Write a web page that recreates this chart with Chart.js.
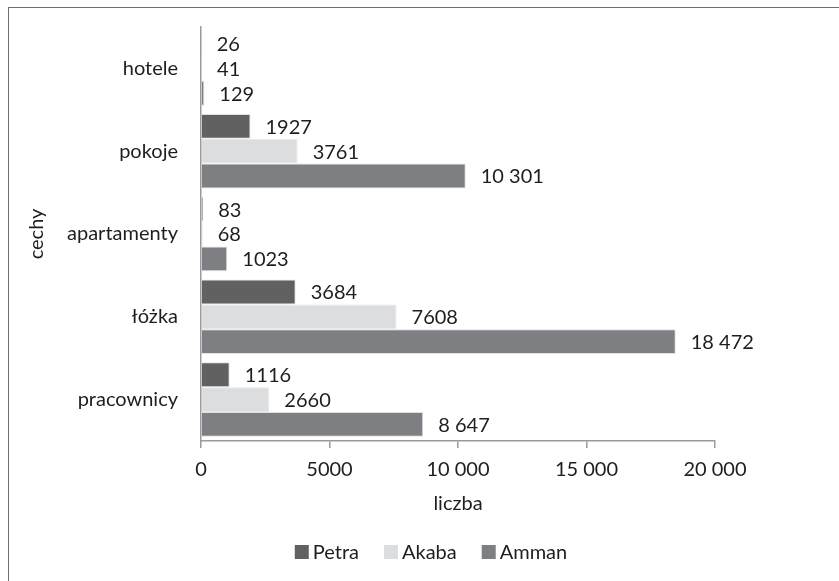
<!DOCTYPE html>
<html>
<head>
<meta charset="utf-8">
<script src="https://cdn.jsdelivr.net/npm/chart.js@4.4.1/dist/chart.umd.min.js"></script>
<style>
  html, body { margin: 0; padding: 0; background: #fff; }
  #wrap { position: relative; width: 839px; height: 581px; }
  #frame { position: absolute; left: 8px; top: 7px; right: 0; bottom: 0;
           border-left: 1px solid #6f6f6f; border-top: 1px solid #6f6f6f; }
  #chart { position: absolute; left: 0; top: 0; }
</style>
</head>
<body>
<div id="wrap">
  <div id="frame"></div>
  <canvas id="chart" width="839" height="581"></canvas>
</div>
<script>
const categories = ['hotele', 'pokoje', 'apartamenty', 'łóżka', 'pracownicy'];

const petra = [26, 1927, 83, 3684, 1116];
const akaba = [41, 3761, 68, 7608, 2660];
const amman = [129, 10301, 1023, 18472, 8647];

const petraLabels = ['26', '1927', '83', '3684', '1116'];
const akabaLabels = ['41', '3761', '68', '7608', '2660'];
const ammanLabels = ['129', '10 301', '1023', '18 472', '8 647'];

const xTicks = ['0', '5000', '10 000', '15 000', '20 000'];

const FONT = 'Lato, "Open Sans", sans-serif';
const TEXT = '#1e1e1e';

// value text to the right of each bar
const barValues = {
  id: 'barValues',
  afterDatasetsDraw(chart) {
    const c = chart.ctx;
    c.save();
    c.font = '20px ' + FONT;
    c.fillStyle = TEXT;
    c.textBaseline = 'middle';
    c.textAlign = 'left';
    chart.data.datasets.forEach((ds, i) => {
      chart.getDatasetMeta(i).data.forEach((bar, j) => {
        c.fillText(ds.valueLabels[j], bar.x + 15, bar.y + 1);
      });
    });
    c.restore();
  }
};

// legend row centred under the whole frame
const bottomLegend = {
  id: 'bottomLegend',
  afterDraw(chart) {
    const c = chart.ctx;
    const box = 14, gap = 4, space = 25, cy = 552;
    c.save();
    c.font = '20px ' + FONT;
    c.textBaseline = 'middle';
    const items = chart.data.datasets.map(ds => ({
      text: ds.label, color: ds.backgroundColor, w: c.measureText(ds.label).width
    }));
    const total = items.reduce((s, it) => s + box + gap + it.w, 0) + space * (items.length - 1);
    let x = 431 - total / 2;
    items.forEach(it => {
      c.fillStyle = it.color;
      c.fillRect(x, cy - box / 2, box, box);
      c.fillStyle = TEXT;
      c.fillText(it.text, x + box + gap, cy + 1);
      x += box + gap + it.w + space;
    });
    c.restore();
  }
};

new Chart(document.getElementById('chart'), {
  type: 'bar',
  data: {
    labels: categories,
    datasets: [
      { label: 'Petra', data: petra, valueLabels: petraLabels,
        backgroundColor: '#616162', borderColor: '#e4e4e4', borderWidth: 1 },
      { label: 'Akaba', data: akaba, valueLabels: akabaLabels,
        backgroundColor: '#dcdddf', borderColor: '#e8e8e8', borderWidth: 1 },
      { label: 'Amman', data: amman, valueLabels: ammanLabels,
        backgroundColor: '#7e7f83', borderColor: '#e0e0e0', borderWidth: 1 }
    ]
  },
  options: {
    indexAxis: 'y',
    responsive: false,
    animation: false,
    categoryPercentage: 0.9,
    barPercentage: 1.0,
    layout: { padding: { left: 10, right: 124, top: 26, bottom: 65 } },
    scales: {
      y: {
        grid: { display: false },
        border: { display: true, color: '#9a9a9a', width: 1.5 },
        ticks: { color: TEXT, font: { family: FONT, size: 20 }, padding: 15 },
        title: { display: true, text: 'cechy', color: TEXT,
                 font: { family: FONT, size: 20 }, padding: { top: 15, bottom: 0 } },
        afterFit(scale) { scale.width = 191; }
      },
      x: {
        min: 0,
        max: 20000,
        ticks: {
          stepSize: 5000,
          color: TEXT,
          font: { family: FONT, size: 20 },
          padding: 10,
          callback: (v, i) => xTicks[i]
        },
        grid: { drawOnChartArea: false, drawTicks: true, tickLength: 7,
                color: '#9a9a9a', lineWidth: 1.5 },
        border: { display: true, color: '#9a9a9a', width: 1.5 },
        title: { display: true, text: 'liczba', color: TEXT,
                 font: { family: FONT, size: 20 }, padding: { top: 0, bottom: 0 } }
      }
    },
    plugins: {
      legend: { display: false },
      tooltip: { enabled: false }
    }
  },
  plugins: [barValues, bottomLegend]
});
</script>
</body>
</html>
